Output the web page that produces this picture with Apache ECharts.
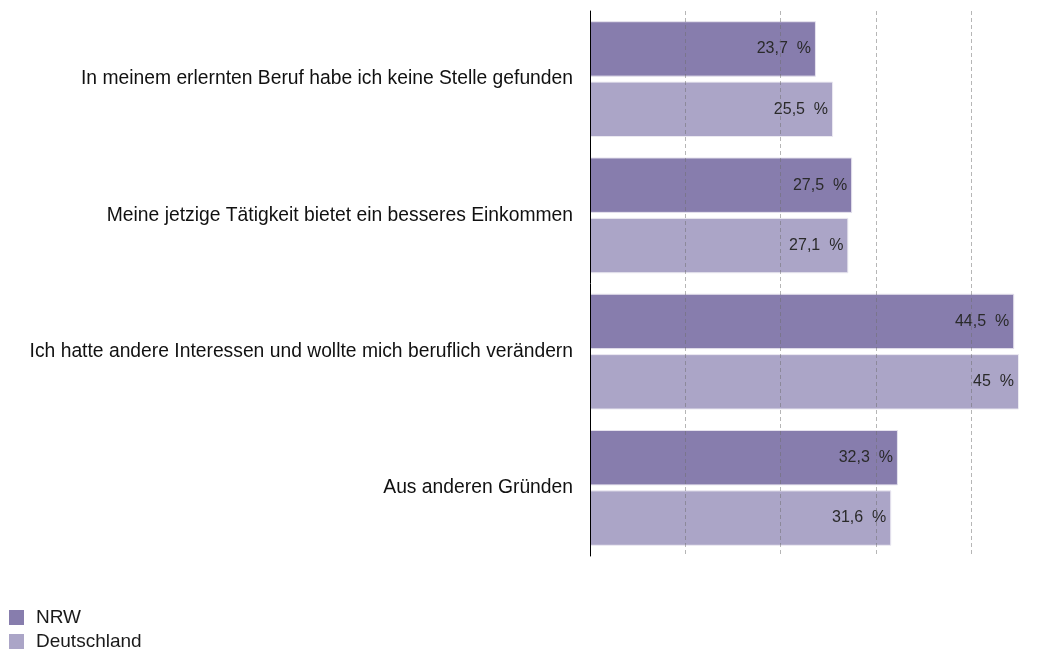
<!DOCTYPE html>
<html>
<head>
<meta charset="utf-8">
<script src="https://cdn.jsdelivr.net/npm/echarts@6/dist/echarts.min.js"></script>
<style>
  html, body { margin: 0; padding: 0; background: #fff; }
  #chart { width: 1058px; height: 650px; }
</style>
</head>
<body>
<div id="chart"></div>
<script>
  const categories = [
    'In meinem erlernten Beruf habe ich keine Stelle gefunden',
    'Meine jetzige Tätigkeit bietet ein besseres Einkommen',
    'Ich hatte andere Interessen und wollte mich beruflich verändern',
    'Aus anderen Gründen'
  ];
  const nrw = [23.7, 27.5, 44.5, 32.3];
  const deutschland = [25.5, 27.1, 45, 31.6];

  const fontFamily = '"Liberation Sans", Arial, Helvetica, sans-serif';
  // decimal comma, wide gap before the percent sign
  const fmt = p => String(p.value).replace('.', ',') + '  %';

  const chart = echarts.init(document.getElementById('chart'));

  const barLabel = {
    show: true,
    position: 'insideRight',
    distance: 5,
    formatter: fmt,
    color: '#2a2a2a',
    fontSize: 16,
    fontFamily
  };

  // one legend per entry so they stack without wrapping
  const legendBase = {
    left: 9,
    padding: 0,
    itemWidth: 15,
    itemHeight: 15,
    icon: 'rect',
    itemStyle: { borderWidth: 0 },
    textStyle: { fontSize: 19, color: '#1a1a1a', padding: [0, 0, 0, 7] }
  };

  chart.setOption({
    animation: false,
    backgroundColor: '#fff',
    textStyle: { fontFamily },
    legend: [
      Object.assign({}, legendBase, { top: 608, data: ['NRW'] }),
      Object.assign({}, legendBase, { top: 632, data: ['Deutschland'] })
    ],
    grid: { left: 590, right: 39, top: 11, bottom: 94 },
    xAxis: {
      type: 'value',
      min: 0,
      max: 45,
      interval: 10,
      z: 5,
      axisLine: { show: false },
      axisTick: { show: false },
      axisLabel: { show: false },
      splitLine: {
        show: true,
        showMinLine: false,
        showMaxLine: false,
        lineStyle: { color: 'rgba(110,110,110,0.5)', type: [4, 3], width: 1 }
      }
    },
    yAxis: {
      type: 'category',
      inverse: true,
      z: 6,
      data: categories,
      axisLine: { show: true, lineStyle: { color: '#000', width: 1 } },
      axisTick: { show: false },
      axisLabel: { margin: 17, fontSize: 19.3, color: '#111' }
    },
    series: [
      {
        name: 'NRW',
        type: 'bar',
        data: nrw,
        barGap: '9%',
        barCategoryGap: '15%',
        itemStyle: { color: '#877dad', borderColor: '#e6e3ee', borderWidth: 1 },
        label: barLabel
      },
      {
        name: 'Deutschland',
        type: 'bar',
        data: deutschland,
        itemStyle: { color: '#aba5c7', borderColor: '#eceaf2', borderWidth: 1 },
        label: barLabel
      }
    ]
  });
</script>
</body>
</html>
